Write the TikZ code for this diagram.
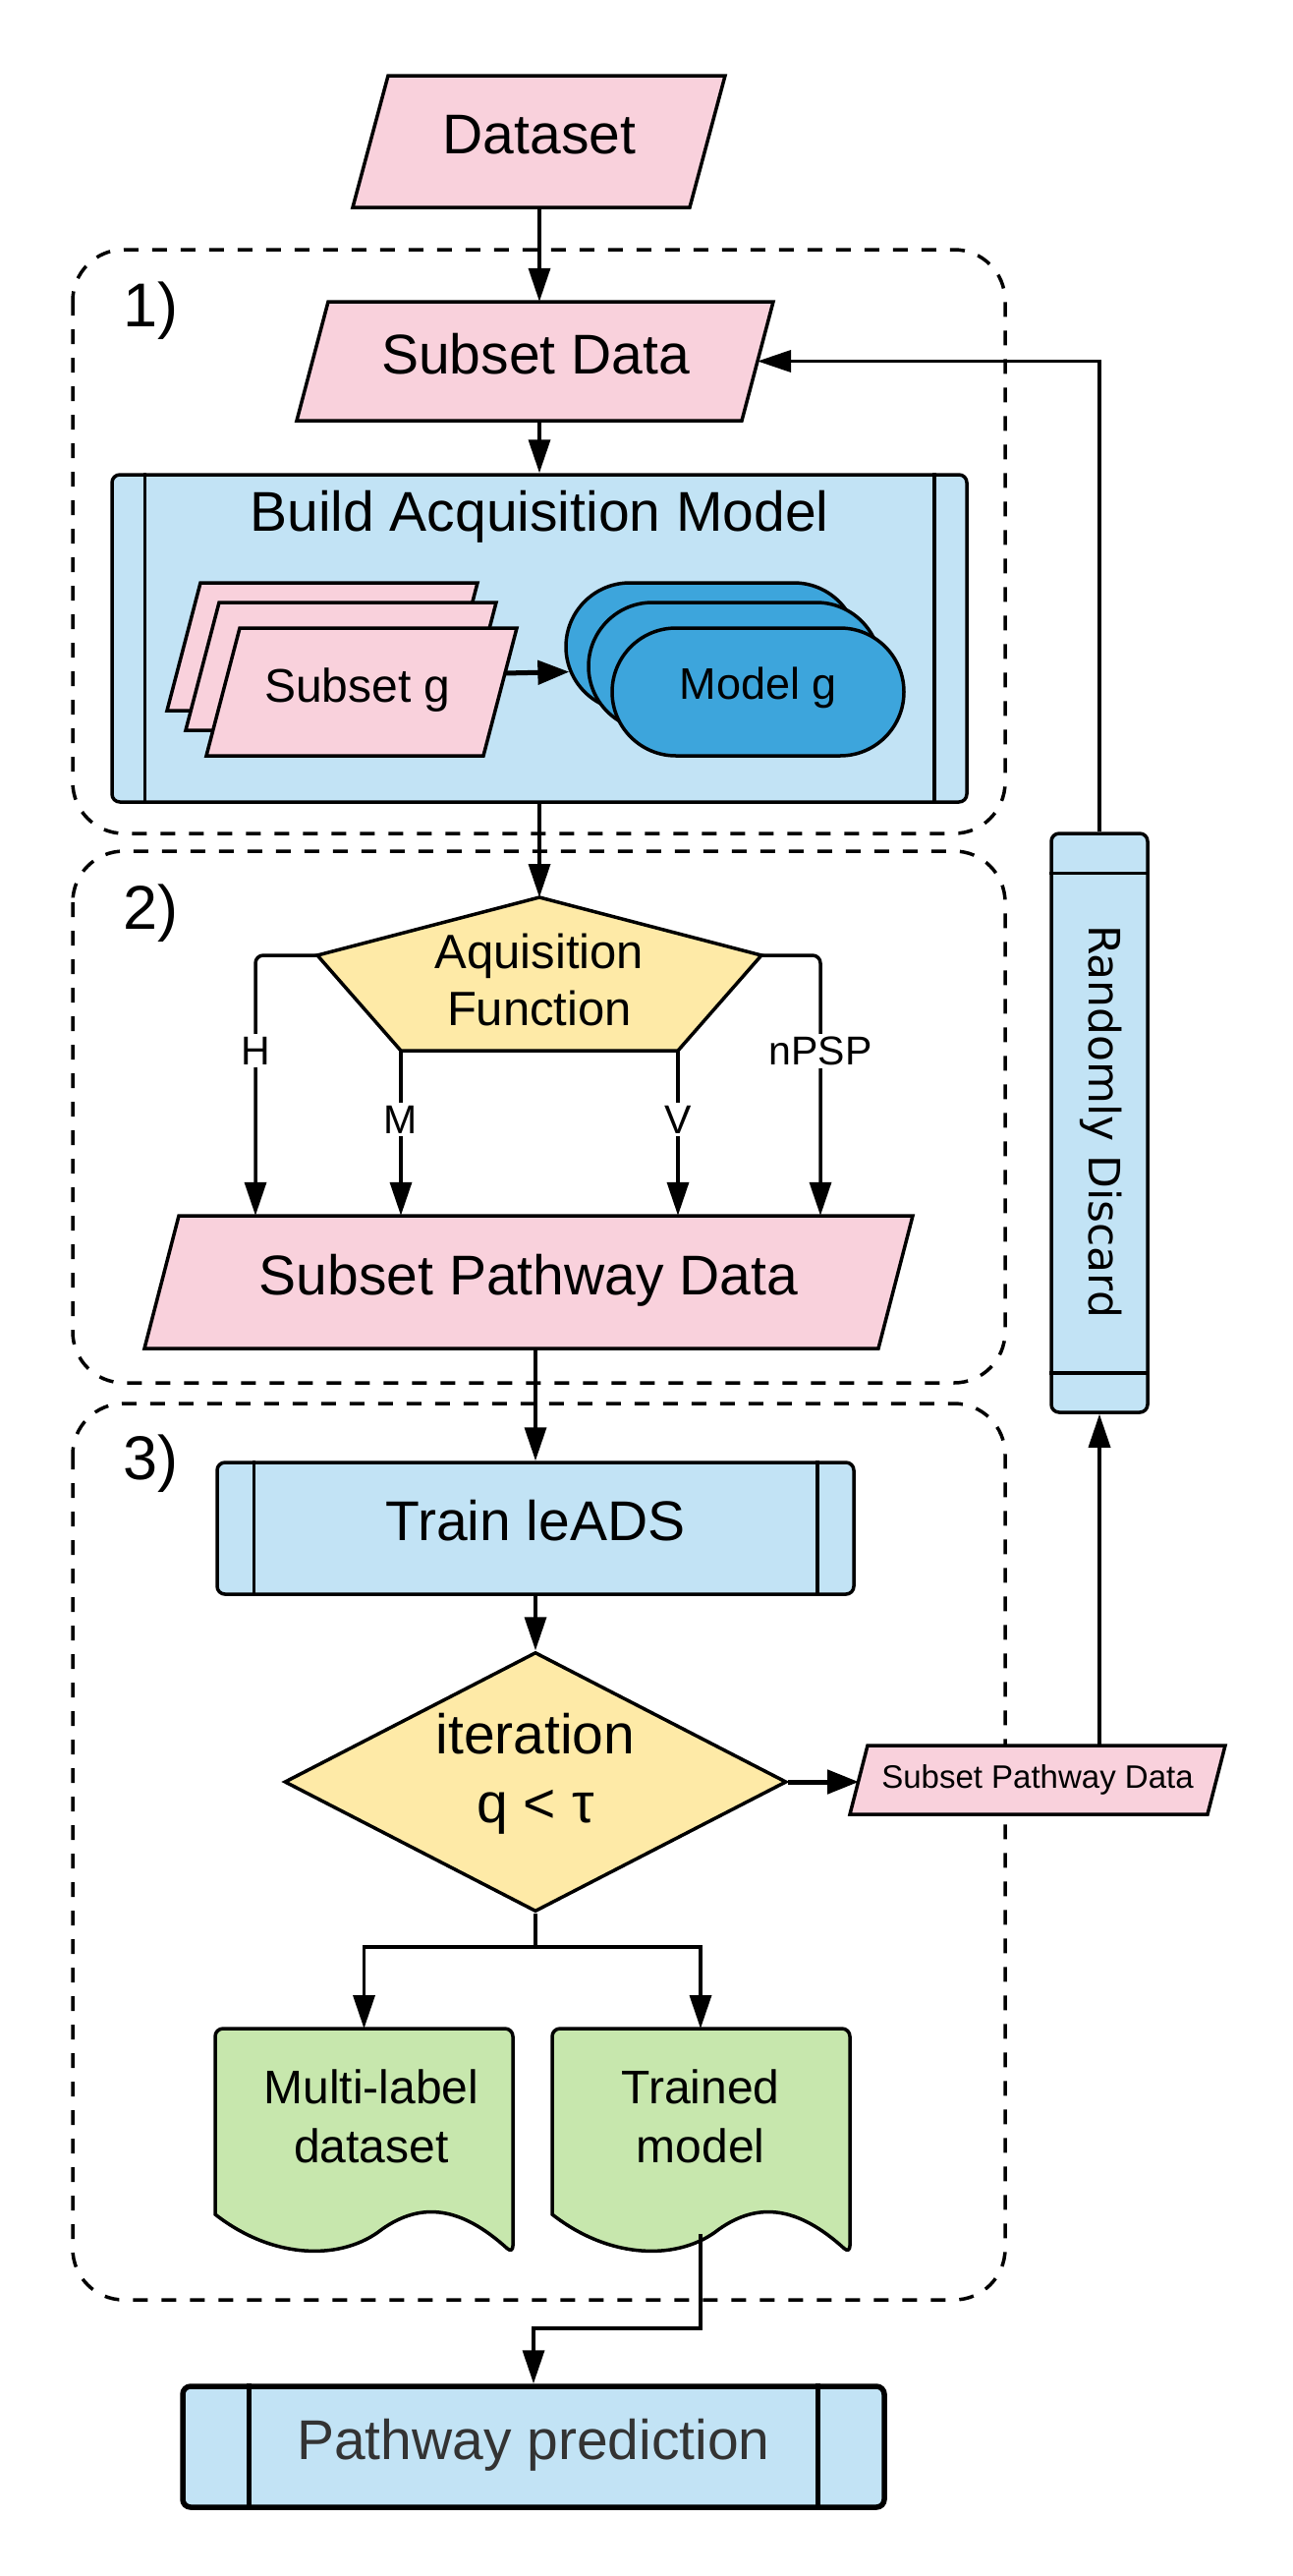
\documentclass[tikz,border=0pt]{standalone}
\usepackage{fontspec}
\setmainfont{Liberation Sans}
\newfontfamily\discardfont{DejaVu Sans}
\usetikzlibrary{shapes.geometric,shapes.misc,arrows.meta}
\definecolor{pinkfill}{HTML}{F9D1DC}
\definecolor{bluefill}{HTML}{C2E3F5}
\definecolor{modelblue}{HTML}{3DA5DC}
\definecolor{yellowfill}{HTML}{FEEAA7}
\definecolor{greenfill}{HTML}{C7E7AD}
\definecolor{darktext}{HTML}{333333}
\begin{document}
\begin{tikzpicture}[x=1pt, y=-1pt,
    big/.style={font=\fontsize{57}{68}\selectfont, text height=41pt, text depth=16pt},
    mid/.style={font=\fontsize{48}{58}\selectfont},
    lbl/.style={fill=white, inner sep=3pt, font=\fontsize{41}{48}\selectfont},
    datashape/.style={draw, line width=3.5pt, fill=pinkfill},
    proc/.style={rectangle, draw, line width=3.5pt, fill=bluefill, rounded corners=8pt, inner sep=0pt},
    model/.style={rounded rectangle, draw, line width=3.5pt, fill=modelblue,
        minimum width=297pt, minimum height=130pt, inner sep=0pt},
    conn/.style={line width=3.5pt, -{Triangle[length=34pt,width=22pt]}},
    thickconn/.style={line width=5pt, -{Triangle[length=32pt,width=24pt]}},
    region/.style={line width=3.5pt, dash pattern=on 15pt off 14pt, rounded corners=52pt},
    regionlabel/.style={anchor=base west, font=\fontsize{63}{70}\selectfont}]
\fill[white] (0,0) rectangle (1316,2621);
\useasboundingbox (0,0) rectangle (1316,2621);

\draw[region] (74,254) rectangle (1023,848);
\draw[region] (74,866) rectangle (1023,1407);
\draw[region] (74,1428) rectangle (1023,2340);
\node[regionlabel] (lab1) at (122,332) {1)};
\node[regionlabel] (lab2) at (122,945) {2)};
\node[regionlabel] (lab3) at (122,1505) {3)};

\draw[datashape] (359,211) -- (395,77) -- (738,77) -- (702,211) -- cycle;
\node[big, minimum height=134pt, inner sep=0pt] (dataset) at (549,144) {Dataset};
\draw[datashape] (302,428) -- (334,307) -- (787,307) -- (755,428) -- cycle;
\node[big, minimum height=121pt, inner sep=0pt] (subdata) at (545,367.5) {Subset Data};
\coordinate (subdataright) at (771,367.5);

\node[proc, minimum width=870pt, minimum height=333pt] (build) at (549,649.5) {};
\draw[line width=3.5pt] ([xshift=35pt]build.north west) -- ([xshift=35pt]build.south west);
\draw[line width=3.5pt] ([xshift=-35pt]build.north east) -- ([xshift=-35pt]build.south east);
\node[big] (buildtitle) at (549,528) {Build Acquisition Model};

\foreach \bx/\by in {170/723, 189/743, 210/769}
    \draw[datashape] (\bx,\by) -- (\bx+34,\by-130) -- (\bx+316,\by-130) -- (\bx+282,\by) -- cycle;
\node[mid] (sgtext) at (364,702) {Subset g};
\coordinate (sgout) at (513,685);
\foreach \i/\cx/\cy in {1/724.5/658, 2/747.5/678, 3/771.5/704}
    \node[model] (mg\i) at (\cx,\cy) {};
\node[font=\fontsize{45}{54}\selectfont] (mgtext) at (772,700) {Model g};
\draw[thickconn] (sgout) -- (mg1.190.7);

\coordinate (acqtop) at (549,913);
\coordinate (acqleft) at (323,972);
\coordinate (acqright) at (775,972);
\coordinate (acqbl) at (408,1069);
\coordinate (acqbr) at (690,1069);
\draw[line width=3.5pt, fill=yellowfill] (acqtop) -- (acqright) -- (acqbr) -- (acqbl) -- (acqleft) -- cycle;
\node[align=center, font=\fontsize{49}{58}\selectfont] (acq) at (549,997) {Aquisition\\Function};

\draw[datashape] (147,1372) -- (182,1237) -- (929,1237) -- (894,1372) -- cycle;
\node[big, minimum height=135pt, inner sep=0pt] (spd) at (538,1304.5) {Subset Pathway Data};

\coordinate (hbend) at (260,972);
\coordinate (nbend) at (835,972);
\draw[conn, rounded corners=8pt] (acqleft) -- (hbend) -- (hbend |- spd.north);
\draw[conn, rounded corners=8pt] (acqright) -- (nbend) -- (nbend |- spd.north);
\draw[conn] (acqbl) -- (acqbl |- spd.north);
\draw[conn] (acqbr) -- (acqbr |- spd.north);
\node[lbl] (lh) at (260,1069) {H};
\node[lbl] (lnpsp) at (835,1069) {nPSP};
\node[lbl] (lm) at (408,1139) {M};
\node[lbl] (lv) at (690,1139) {V};

\node[proc, minimum width=648pt, minimum height=134pt, big] (train) at (545,1555) {Train leADS};
\draw[line width=3.5pt] ([xshift=39pt]train.north west) -- ([xshift=39pt]train.south west);
\draw[line width=3.5pt] ([xshift=-39pt]train.north east) -- ([xshift=-39pt]train.south east);

\node[diamond, draw, line width=3.5pt, fill=yellowfill, minimum width=511pt, minimum height=264pt,
    inner sep=0pt] (iter) at (545,1813) {};
\node[align=center, font=\fontsize{57}{70}\selectfont] (itertext) at (545,1805) {iteration\\q < τ};

\draw[datashape] (865,1846) -- (883,1776) -- (1247,1776) -- (1229,1846) -- cycle;
\node[font=\fontsize{33}{40}\selectfont, minimum height=70pt, inner sep=0pt] (sspd) at (1056,1811) {Subset Pathway Data};
\coordinate (sspdleft) at (874,1811);

\node[proc, minimum width=98pt, minimum height=589pt] (discard) at (1119,1142.5) {};
\draw[line width=3.5pt] ([yshift=-42pt]discard.north west) -- ([yshift=-42pt]discard.north east);
\draw[line width=3.5pt] ([yshift=42pt]discard.south west) -- ([yshift=42pt]discard.south east);
\node[rotate=-90, font=\discardfont\fontsize{44}{52}\selectfont] (discardtext) at (1121,1141) {Randomly Discard};

\foreach \L in {219, 562}
    \draw[line width=3.5pt, fill=greenfill] (\L,2253) [rounded corners=8pt] -- (\L,2064) -- (\L+303,2064)
        -- (\L+303,2293) [sharp corners] .. controls (\L+250,2245) and (\L+210,2240) .. (\L+170,2268)
        .. controls (\L+130,2300) and (\L+60,2300) .. (\L,2253) -- cycle;
\node[align=center, font=\fontsize{48}{60}\selectfont] (mld) at (378,2153) {Multi-label\\dataset};
\node[align=center, font=\fontsize{48}{60}\selectfont] (trm) at (713,2153) {Trained\\model};
\coordinate (mldtop) at (370.5,2064);
\coordinate (trmtop) at (713,2064);
\coordinate (trmwave) at (713,2273);
\coordinate (split) at (545,1981);
\coordinate (predbend) at (0,2369);

\node[proc, line width=5.5pt, minimum width=714pt, minimum height=123pt, big, text=darktext]
    (pred) at (543,2489.5) {Pathway prediction};
\draw[line width=5pt] ([xshift=70pt]pred.north west) -- ([xshift=70pt]pred.south west);
\draw[line width=5pt] ([xshift=-70pt]pred.north east) -- ([xshift=-70pt]pred.south east);

\draw[conn] (dataset.south) -- (dataset.south |- subdata.north);
\draw[conn] (build.north |- subdata.south) -- (build.north);
\draw[conn] (build.south) -- (acqtop);
\draw[conn] (train.north |- spd.south) -- (train.north);
\draw[conn] (train.south) -- (iter.north);
\draw[thickconn] (iter.east) -- (iter.east -| sspdleft);
\draw[line width=3.5pt] (iter.south) -- (split);
\draw[conn] (split) -| (mldtop);
\draw[conn] (split) -| (trmtop);
\draw[conn] (trmwave) -- (trmwave |- predbend) -| (pred.north);
\draw[conn] (sspd.north -| discard.south) -- (discard.south);
\draw[conn] (discard.north) -- (discard.north |- subdataright) -- (subdataright);
\end{tikzpicture}
\end{document}
